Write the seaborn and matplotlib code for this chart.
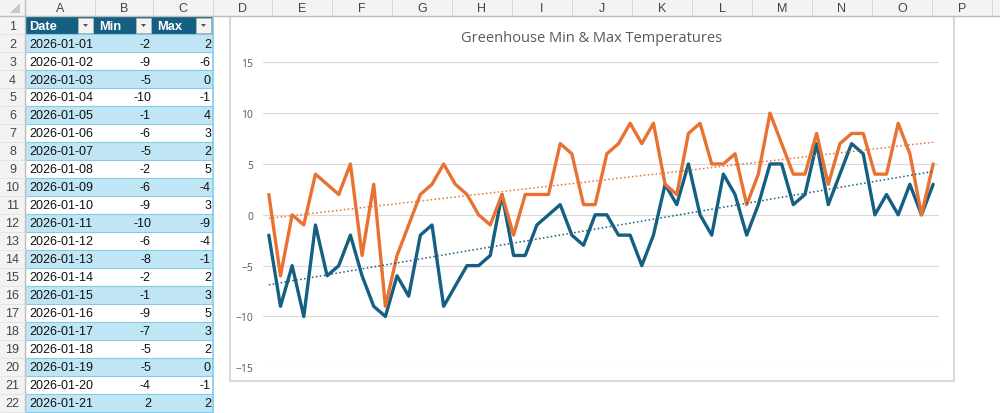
import numpy as np
import pandas as pd
import matplotlib
matplotlib.use('Agg')
import matplotlib.pyplot as plt
from matplotlib.patches import Rectangle, Polygon
import seaborn as sns

# --- data ---
min_temps = [-2, -9, -5, -10, -1, -6, -5, -2, -6, -9, -10, -6, -8, -2, -1, -9, -7, -5, -5, -4,
             2, -4, -4, -1, 0, 1, -2, -3, 0, 0, -2, -2, -5, -2, 3, 1, 5, 0, -2, 4,
             2, -2, 1, 5, 5, 1, 2, 7, 1, 4, 7, 6, 0, 2, 0, 3, 0, 3]
max_temps = [2, -6, 0, -1, 4, 3, 2, 5, -4, 3, -9, -4, -1, 2, 3, 5, 3, 2, 0, -1,
             2, -2, 2, 2, 2, 7, 6, 1, 1, 6, 7, 9, 7, 9, 3, 2, 8, 9, 5, 5,
             6, 1, 4, 10, 7, 4, 4, 8, 3, 7, 8, 8, 4, 4, 9, 6, 0, 5]
dates = pd.date_range('2026-01-01', periods=len(min_temps), freq='D')
headers = ['Date', 'Min', 'Max']
col_letters = list('ABCDEFGHIJKLMNOP')
chart_title = 'Greenhouse Min & Max Temperatures'

df = pd.DataFrame({'Date': dates, 'Min': min_temps, 'Max': max_temps})
df['Day'] = np.arange(len(df))

BLUE = '#156082'
ORANGE = '#E97132'
BAND = '#C0E6F5'
TBL_LINE = '#84CBEA'

sns.set_style('white')
plt.rcParams['font.family'] = ['Liberation Sans', 'DejaVu Sans']

W, H = 1000, 414
fig = plt.figure(figsize=(W / 100, H / 100), dpi=100)

# --- worksheet background, drawn in pixel coordinates ---
sh = fig.add_axes([0, 0, 1, 1])
sh.set_xlim(0, W)
sh.set_ylim(H, 0)
sh.axis('off')

col_edges = [25, 95, 153, 213, 272, 332, 392, 452, 512, 572, 632, 692, 752, 812, 872, 932, 992]
head_h, row_h = 17, 18
n_rows = 22

def row_top(r):
    return head_h + row_h * (r - 1)

# chart frame
sh.add_patch(Rectangle((230, 8), 954 - 230, 382 - 8, fc='white', ec='#d9d9d9', lw=1.5, zorder=1))
sh.text(592, 38, chart_title, ha='center', va='center', fontsize=10.5, color='#595959',
        family=['Open Sans', 'DejaVu Sans'], zorder=5)

# table cells
for r in range(1, n_rows + 1):
    y0 = row_top(r)
    if r == 1:
        sh.add_patch(Rectangle((col_edges[0], y0), col_edges[3] - col_edges[0], row_h,
                               fc=BLUE, ec='none', zorder=2))
        for c, name in enumerate(headers):
            sh.text(col_edges[c] + 4, y0 + row_h / 2 + 0.5, name, ha='left', va='center',
                    fontsize=9.3, fontweight='bold', color='white', zorder=3)
            bx = col_edges[c + 1] - 17
            sh.add_patch(Rectangle((bx, y0 + 1.5), 15, 15, fc='#f4f4f4', ec='#b5b5b5', lw=0.6, zorder=3))
            sh.add_patch(Polygon([(bx + 5, y0 + 8), (bx + 10, y0 + 8), (bx + 7.5, y0 + 11)],
                                 closed=True, fc='#555555', ec='none', zorder=4))
        continue
    i = r - 2
    fc = BAND if r % 2 == 0 else 'white'
    sh.add_patch(Rectangle((col_edges[0], y0), col_edges[3] - col_edges[0], row_h,
                           fc=fc, ec='none', zorder=2))
    sh.plot([col_edges[0], col_edges[3]], [y0, y0], color=TBL_LINE, lw=0.8, zorder=3)
    yc = y0 + row_h / 2 + 0.5
    sh.text(col_edges[0] + 4, yc, df['Date'][i].strftime('%Y-%m-%d'), ha='left', va='center',
            fontsize=9, color='#111111', zorder=4)
    sh.text(col_edges[2] - 2, yc, str(df['Min'][i]), ha='right', va='center',
            fontsize=9, color='#111111', zorder=4)
    sh.text(col_edges[3] - 2, yc, str(df['Max'][i]), ha='right', va='center',
            fontsize=9, color='#111111', zorder=4)
# next (cut-off) row band and table edges
sh.add_patch(Rectangle((col_edges[0], row_top(n_rows + 1)), col_edges[3] - col_edges[0], row_h,
                       fc='white', ec='none', zorder=2))
sh.plot([col_edges[0], col_edges[3]], [row_top(n_rows + 1)] * 2, color=TBL_LINE, lw=0.8, zorder=3)
sh.plot([col_edges[0], col_edges[0]], [row_top(1), H], color=TBL_LINE, lw=0.8, zorder=3)
sh.plot([col_edges[3], col_edges[3]], [row_top(1), H], color=TBL_LINE, lw=1.2, zorder=3)

# column headers
sh.add_patch(Rectangle((0, 0), W, head_h, fc='#f3f3f3', ec='none', zorder=6))
for k, letter in enumerate(col_letters):
    x0, x1 = col_edges[k], col_edges[k + 1]
    sh.plot([x1, x1], [0, head_h], color='#d6d6d6', lw=0.7, zorder=7)
    sh.text((x0 + x1) / 2, head_h / 2 + 0.5, letter, ha='center', va='center',
            fontsize=9, color='#444444', zorder=7)
sh.plot([0, W], [head_h, head_h], color='#bdbdbd', lw=1, zorder=7)

# row headers
sh.add_patch(Rectangle((0, 0), col_edges[0], H, fc='#f3f3f3', ec='none', zorder=6))
sh.plot([col_edges[0], col_edges[0]], [0, H], color='#bdbdbd', lw=1, zorder=7)
sh.add_patch(Polygon([(20, 4), (20, 14), (10, 14)], closed=True, fc='#c8c8c8', ec='none', zorder=7))
for r in range(1, n_rows + 1):
    y0 = row_top(r)
    sh.plot([0, col_edges[0]], [y0 + row_h, y0 + row_h], color='#e0e0e0', lw=0.6, zorder=7)
    sh.text(col_edges[0] / 2, y0 + row_h / 2 + 0.5, str(r), ha='center', va='center',
            fontsize=9, color='#444444', zorder=7)

# --- chart plot area ---
left, right = 263, 939
y_top, y_bot = 63.3, 368.3
ax = fig.add_axes([left / W, (H - y_bot) / H, (right - left) / W, (y_bot - y_top) / H])
ax.set_facecolor('none')

for col, color in [('Min', BLUE), ('Max', ORANGE)]:
    sns.lineplot(data=df, x='Day', y=col, color=color, lw=2.4, ax=ax,
                 solid_joinstyle='round', solid_capstyle='round', zorder=3)
for col, color in [('Min', BLUE), ('Max', ORANGE)]:
    sns.regplot(data=df, x='Day', y=col, scatter=False, ci=None, truncate=True, ax=ax,
                line_kws=dict(color=color, lw=1.1, ls=(0, (1, 1.6)), zorder=4))

ax.set_xlim(-0.5, len(df) - 0.5)
ax.set_ylim(-15, 15)
ax.set_yticks(range(-15, 16, 5))
ax.set_xticks([])
ax.set_xlabel('')
ax.set_ylabel('')
ax.yaxis.grid(True, color='#d9d9d9', lw=0.8)
ax.set_axisbelow(True)
ax.tick_params(axis='y', length=0, pad=7, labelsize=7.5, labelcolor='#595959')
for lab in ax.get_yticklabels():
    lab.set_family(['Open Sans', 'DejaVu Sans'])
for s in ax.spines.values():
    s.set_visible(False)

fig.savefig('out.png', dpi=100)
